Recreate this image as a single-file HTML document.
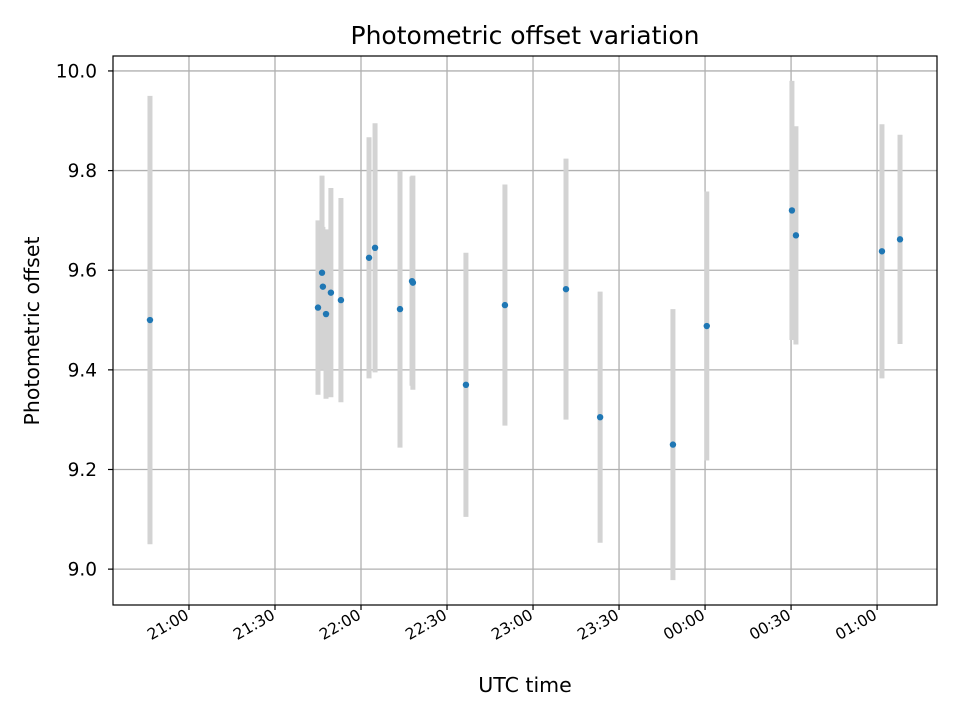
<!DOCTYPE html>
<html><head><meta charset="utf-8"><style>
body{margin:0;background:#fff}
svg text{font-family:"DejaVu Sans","Liberation Sans",sans-serif;fill:#000}
</style></head><body>
<svg id="chart" width="960" height="720" xmlns="http://www.w3.org/2000/svg">
<rect width="960" height="720" fill="#fff"/>
<text x="525" y="44" font-size="25" text-anchor="middle">Photometric offset variation</text>
<g id="grid"></g>
<g id="bars"></g>
<g id="points"></g>
<g id="axes"></g>
<text x="525" y="692" font-size="20.5" text-anchor="middle">UTC time</text>
<text x="0" y="0" font-size="20.5" text-anchor="middle" transform="translate(39,331) rotate(-90)">Photometric offset</text>
</svg>
<script>
const times = ["20:46:24","21:45:00","21:46:24","21:46:42","21:47:48","21:49:30","21:53:00","22:02:48","22:04:54","22:13:36","22:17:48","22:18:06","22:36:36","22:50:12","23:11:30","23:23:24","23:48:48","00:00:36","00:30:18","00:31:42","01:01:42","01:08:00"];
const offsets = [9.50,9.525,9.595,9.567,9.512,9.555,9.54,9.625,9.645,9.522,9.578,9.575,9.37,9.53,9.562,9.305,9.25,9.488,9.72,9.67,9.638,9.662];
const errors = [0.45,0.175,0.195,0.12,0.17,0.21,0.205,0.242,0.25,0.278,0.21,0.215,0.265,0.242,0.262,0.252,0.272,0.27,0.26,0.219,0.255,0.21];
const xTickLabels = ["21:00","21:30","22:00","22:30","23:00","23:30","00:00","00:30","01:00"];
const yTickLabels = ["9.0","9.2","9.4","9.6","9.8","10.0"];

const L=113,R=937,T=56,B=605;
const xMin=-26.5,xMax=260.9,yMin=8.928,yMax=10.030;
function toMin(s){const p=s.split(':').map(Number);let h=p[0];if(h<12)h+=24;return (h-21)*60+p[1]+(p[2]||0)/60;}
function xs(m){return L+(m-xMin)/(xMax-xMin)*(R-L);}
function ys(v){return B-(v-yMin)/(yMax-yMin)*(B-T);}
const NS="http://www.w3.org/2000/svg";
function mk(tag,attrs,parent){const e=document.createElementNS(NS,tag);for(const k in attrs)e.setAttribute(k,attrs[k]);parent.appendChild(e);return e;}
const grid=document.getElementById('grid'),bars=document.getElementById('bars'),pts=document.getElementById('points'),axes=document.getElementById('axes');
xTickLabels.forEach(lbl=>{
  const x=xs(toMin(lbl));
  const g=mk('line',{x1:x,x2:x,y1:T,y2:B,stroke:'#b0b0b0','stroke-width':1.3},grid);
  
  
  const t=mk('line',{x1:x,x2:x,y1:B,y2:B+5,stroke:'#000','stroke-width':1.2},axes);
  
  
  const tx=mk('text',{'font-size':15.5,'text-anchor':'end',transform:`translate(${x+1},${B+13}) rotate(-30)`},axes);
  tx.textContent=lbl;
  
  
});
yTickLabels.forEach(lbl=>{
  const y=ys(parseFloat(lbl));
  const g=mk('line',{x1:L,x2:R,y1:y,y2:y,stroke:'#b0b0b0','stroke-width':1.3},grid);
  
  
  const t=mk('line',{x1:L-5,x2:L,y1:y,y2:y,stroke:'#000','stroke-width':1.2},axes);
  
  
  const tx=mk('text',{x:L-16,y:y+6.5,'font-size':18.5,'text-anchor':'end'},axes);
  tx.textContent=lbl;
  
  
});
const frame=mk('rect',{x:L,y:T,width:R-L,height:B-T,fill:'none',stroke:'#000','stroke-width':1.2},axes);


times.forEach((t,i)=>{
  const x=xs(toMin(t));
  const b=mk('line',{x1:x,x2:x,y1:ys(offsets[i]+errors[i]),y2:ys(offsets[i]-errors[i]),stroke:'#d3d3d3','stroke-width':5},bars);
  
  
});
times.forEach((t,i)=>{
  const c=mk('circle',{cx:xs(toMin(t)),cy:ys(offsets[i]),r:3.2,fill:'#1f77b4'},pts);
  
  
});
</script>
</body></html>
